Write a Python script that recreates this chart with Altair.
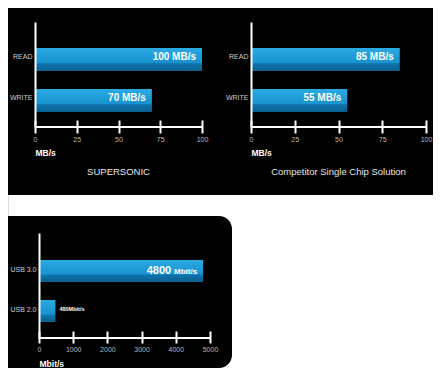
import altair as alt
import pandas as pd

# ---- data ----
rw_categories = ["READ", "WRITE"]
supersonic_mbs = [100, 70]
competitor_mbs = [85, 55]
panel_titles = ["SUPERSONIC", "Competitor Single Chip Solution"]
mbs_ticks = [0, 25, 50, 75, 100]

usb_categories = ["USB 3.0", "USB 2.0"]
usb_mbits = [4800, 480]
mbit_ticks = [0, 1000, 2000, 3000, 4000, 5000]

W, H = 425, 360
FONT = "Liberation Sans"

bar_fill = alt.Gradient(
    gradient="linear",
    stops=[
        alt.GradientStop(color="#2aaae2", offset=0),
        alt.GradientStop(color="#1893d0", offset=0.64),
        alt.GradientStop(color="#0f74ad", offset=0.68),
        alt.GradientStop(color="#0b5f90", offset=1),
    ],
    x1=0, x2=0, y1=0, y2=1,
)


def x_axis(values, base_y, tick_len, x_start, title):
    return alt.Axis(
        orient="bottom", offset=base_y - H, values=values, format="d",
        domain=False, grid=False, ticks=True, tickColor="white", tickWidth=2,
        tickSize=tick_len, labelPadding=2, labelColor="#b8b8b8", labelFontSize=7,
        labelFont=FONT, labelFlush=False, title=title, titleX=x_start,
        titleY=32, titleAlign="left", titleBaseline="middle",
        titleAnchor="start", titleColor="white", titleFontSize=8.5,
        titleFontWeight="bold", titleFont=FONT, zindex=2,
    )


def y_axis(x_start, label_offset):
    return alt.Axis(
        orient="left", offset=-x_start, domain=True, domainColor="white",
        domainWidth=2, ticks=False, tickSize=0, grid=False, labelPadding=3,
        labelColor="#cfcfcf", labelFontSize=7, labelFont=FONT,
        labelOffset=label_offset, title=None, zindex=2,
    )


def rw_panel(values, title, x_start, x_end):
    df = pd.DataFrame({"metric": rw_categories, "speed": values})
    df["label"] = [f"{v} MB/s" for v in values]
    xs = alt.Scale(domain=[mbs_ticks[0], mbs_ticks[-1]],
                   range=[x_start, x_end], nice=False)
    ys = alt.Scale(type="band", domain=rw_categories, range=[14, 119],
                   paddingInner=0.439, paddingOuter=0.5, align=0.634)
    base = alt.Chart(df)
    bars = base.mark_bar(color=bar_fill).encode(
        x=alt.X("speed:Q", scale=xs, axis=x_axis(mbs_ticks, 112, 13, x_start, "MB/s")),
        y=alt.Y("metric:N", scale=ys, sort=rw_categories, axis=y_axis(x_start, -2)),
    )
    labels = base.mark_text(
        align="right", baseline="middle", dx=-6, dy=-2, font=FONT,
        fontWeight="bold", fontSize=10, color="white",
    ).encode(
        x=alt.X("speed:Q", scale=xs, axis=None),
        y=alt.Y("metric:N", scale=ys, sort=rw_categories, axis=None),
        text="label:N",
    )
    rule_df = pd.DataFrame({"lo": [mbs_ticks[0]], "hi": [mbs_ticks[-1]]})
    rule = alt.Chart(rule_df).mark_rule(color="white", strokeWidth=2).encode(
        x=alt.X("lo:Q", scale=xs, axis=None), x2="hi:Q", y=alt.value(119),
    )
    title_df = pd.DataFrame({"t": [title], "mid": [50]})
    ttl = alt.Chart(title_df).mark_text(
        align="center", baseline="middle", font=FONT, fontSize=9.5, color="#e6e6e6",
    ).encode(x=alt.X("mid:Q", scale=xs, axis=None), y=alt.value(164), text="t:N")
    return [bars, labels, rule, ttl]


def usb_panel(x_start, x_end):
    df = pd.DataFrame({"iface": usb_categories, "speed": usb_mbits})
    df["num"] = [str(v) for v in usb_mbits]
    df["unit"] = ["Mbit/s"] * len(usb_mbits)
    df["full"] = [f"{v}Mbit/s" for v in usb_mbits]
    xs = alt.Scale(domain=[mbit_ticks[0], mbit_ticks[-1]],
                   range=[x_start, x_end], nice=False)
    ys = alt.Scale(type="band", domain=usb_categories, range=[225, 330],
                   paddingInner=0.45, paddingOuter=0.5375, align=0.628)
    base = alt.Chart(df)
    bars = base.mark_bar(color=bar_fill).encode(
        x=alt.X("speed:Q", scale=xs, axis=x_axis(mbit_ticks, 323, 12, x_start, "Mbit/s")),
        y=alt.Y("iface:N", scale=ys, sort=usb_categories, axis=y_axis(x_start, -1)),
    )
    enc = dict(
        x=alt.X("speed:Q", scale=xs, axis=None),
        y=alt.Y("iface:N", scale=ys, sort=usb_categories, axis=None),
    )
    inside = base.transform_filter(alt.datum.speed >= 1000)
    num = inside.mark_text(
        align="right", baseline="alphabetic", dx=-32, dy=3, font=FONT,
        fontWeight="bold", fontSize=11, color="white",
    ).encode(text="num:N", **enc)
    unit = inside.mark_text(
        align="right", baseline="alphabetic", dx=-6, dy=3, font=FONT,
        fontWeight="bold", fontSize=8, color="white",
    ).encode(text="unit:N", **enc)
    outside = base.transform_filter(alt.datum.speed < 1000).mark_text(
        align="left", baseline="middle", dx=4, dy=-2, font=FONT,
        fontWeight="bold", fontSize=5.5, color="white",
    ).encode(text="full:N", **enc)
    rule_df = pd.DataFrame({"lo": [mbit_ticks[0]], "hi": [mbit_ticks[-1]]})
    rule = alt.Chart(rule_df).mark_rule(color="white", strokeWidth=2).encode(
        x=alt.X("lo:Q", scale=xs, axis=None), x2="hi:Q", y=alt.value(330),
    )
    return [bars, num, unit, outside, rule]


panel_df = pd.DataFrame({"panel": ["bg"]})
bg_top = alt.Chart(panel_df).mark_rect(color="black").encode(
    x=alt.value(0), x2=alt.value(W), y=alt.value(0), y2=alt.value(187),
)
bg_bottom = alt.Chart(panel_df).mark_rect(
    color="black", cornerRadiusTopRight=13, cornerRadiusBottomRight=13,
).encode(
    x=alt.value(0), x2=alt.value(224), y=alt.value(208), y2=alt.value(H),
)

layers = (
    [bg_top, bg_bottom]
    + rw_panel(supersonic_mbs, panel_titles[0], 27, 194)
    + rw_panel(competitor_mbs, panel_titles[1], 243, 418)
    + usb_panel(31, 202)
)

chart = alt.layer(*layers).resolve_scale(
    x="independent", y="independent"
).resolve_axis(
    x="independent", y="independent"
).properties(
    width=W, height=H, padding=0, background="white",
    autosize=alt.AutoSizeParams(type="none"),
).configure_view(strokeWidth=0, stroke="transparent").configure(font=FONT)

chart.save("out.html", embed_options={"renderer": "svg", "actions": False})
